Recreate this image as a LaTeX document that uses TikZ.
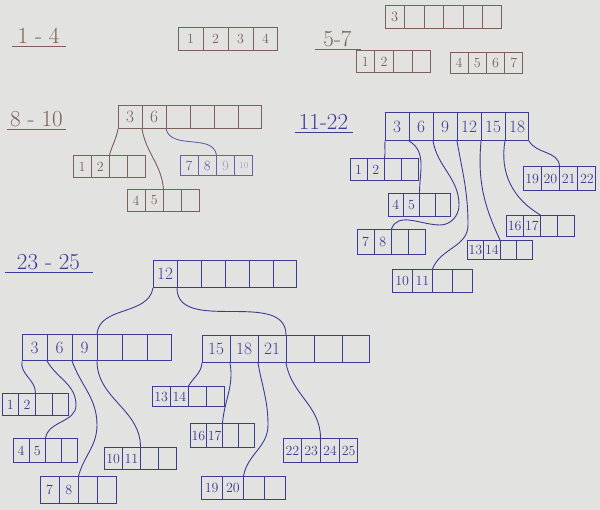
\documentclass[tikz,border=0pt]{standalone}
\usetikzlibrary{shapes.multipart}
\definecolor{paper}{HTML}{E2E2E0}
\definecolor{pencil}{HTML}{7D6058}
\definecolor{violetink}{HTML}{6A5FB0}
\definecolor{ink}{HTML}{3B3B98}

\begin{document}
\begin{tikzpicture}[x=1pt, y=1pt, line width=1pt,
    cellrow/.style={rectangle split, rectangle split horizontal, draw, align=center,
      inner xsep=2pt, inner ysep=1pt, anchor=north west},
    leafbox/.style={cellrow, inner xsep=1pt, rectangle split parts=4, text width=#1,
      rectangle split empty part width=#1, minimum height=22pt, font=\fontsize{14}{14}\selectfont},
    keybox/.style={cellrow, rectangle split parts=6, text width=#1,
      rectangle split empty part width=#1, minimum height=26pt, font=\LARGE},
    heading/.style={font=\fontsize{23}{23}\selectfont, inner sep=3pt, anchor=south},
    ptr/.style={line width=0.9pt}]

    \fill[paper] (0,0) rectangle (600,-510);
    \useasboundingbox (0,0) rectangle (600,-510);

    % 1-4: one leaf
    \begin{scope}[color=pencil]
        \node[heading, minimum width=53pt] (t14) at (38.5,-47) {1 - 4};
        \draw (t14.south west) -- (t14.south east);
        \node[leafbox=22pt, minimum height=23pt] (n14) at (178,-27) {1 \nodepart{two} 2 \nodepart{three} 3 \nodepart{four} 4};

        % 5-7: split
        \node[heading, minimum width=45pt] (t57) at (337.5,-50) {5-7};
        \draw (t57.south west) -- (t57.south east);
        \node[keybox=14.5pt, minimum height=23pt, font=\Large] (r57) at (385,-5) {3 \nodepart{two} \nodepart{three} \nodepart{four} \nodepart{five} \nodepart{six}};
        \node[leafbox=15.75pt] (a57) at (356,-50) {1 \nodepart{two} 2 \nodepart{three} \nodepart{four}};
        \node[leafbox=15.25pt, minimum height=21pt] (b57) at (450,-52) {4 \nodepart{two} 5 \nodepart{three} 6 \nodepart{four} 7};

        % 8-10
        \node[heading, minimum width=57pt] (t810) at (36.5,-130) {8 - 10};
        \draw (t810.south west) -- (t810.south east);
        \node[keybox=19pt, minimum height=23pt] (r810) at (118,-105) {3 \nodepart{two} 6 \nodepart{three} \nodepart{four} \nodepart{five} \nodepart{six}};
        \node[leafbox=15.25pt] (a810) at (73,-155) {1 \nodepart{two} 2 \nodepart{three} \nodepart{four}};
        \node[leafbox=15.25pt] (b810) at (127,-189) {4 \nodepart{two} 5 \nodepart{three} \nodepart{four}};
        \draw[ptr] (r810.south west) to[out=-100,in=75] (a810.two split north);
        \draw[ptr] (r810.one split south) to[out=-80,in=95] (b810.two split north);
    \end{scope}
    \begin{scope}[color=violetink]
        \node[leafbox=15.25pt, minimum height=20pt] (c810) at (180,-155) {7 \nodepart{two} 8 \nodepart{three} \textcolor{violetink!60}{9} \nodepart{four} \textcolor{violetink!60}{\small 10}};
        \draw[ptr] (r810.two split south) to[out=-75,in=100] (c810.two split north);
    \end{scope}

    \begin{scope}[color=ink]
        % 11-22
        \node[heading, minimum width=57pt] (t1122) at (323.5,-133) {11-22};
        \draw (t1122.south west) -- (t1122.south east);
        \node[keybox=19pt, minimum height=28pt] (r1122) at (385,-112) {3 \nodepart{two} 6 \nodepart{three} 9 \nodepart{four} 12 \nodepart{five} 15 \nodepart{six} 18};
        \node[leafbox=14.25pt] (a1122) at (350,-158) {1 \nodepart{two} 2 \nodepart{three} \nodepart{four}};
        \node[leafbox=12.75pt, minimum height=23pt] (b1122) at (388,-193) {4 \nodepart{two} 5 \nodepart{three} \nodepart{four}};
        \node[leafbox=14.25pt, minimum height=25pt] (c1122) at (357,-229) {7 \nodepart{two} 8 \nodepart{three} \nodepart{four}};
        \node[leafbox=17.25pt, minimum height=23pt] (d1122) at (392,-269) {10 \nodepart{two} 11 \nodepart{three} \nodepart{four}};
        \node[leafbox=13.5pt, minimum height=19pt] (e1122) at (467,-240) {13 \nodepart{two} 14 \nodepart{three} \nodepart{four}};
        \node[leafbox=14.25pt, minimum height=21pt] (f1122) at (506,-215) {16 \nodepart{two} 17 \nodepart{three} \nodepart{four}};
        \node[leafbox=15.25pt, minimum height=24pt] (g1122) at (523,-166) {19 \nodepart{two} 20 \nodepart{three} 21 \nodepart{four} 22};
        \draw[ptr] (r1122.south west) to[out=-95,in=80] (a1122.two split north);
        \draw[ptr] (r1122.one split south) to[out=-30,in=90] (b1122.two split north);
        \draw[ptr] (r1122.two split south) to[out=-80,in=90] (459,-205) to[out=-90,in=0] (440,-225) to[out=180,in=70] (c1122.two split north);
        \draw[ptr] (r1122.three split south) to[out=-80,in=90] (468,-225) to[out=-90,in=70] (d1122.two split north);
        \draw[ptr] (r1122.four split south) to[out=-95,in=115] (e1122.two split north);
        \draw[ptr] (r1122.five split south) to[out=-100,in=150] (f1122.two split north);
        \draw[ptr] (r1122.south east) to[out=-60,in=95] (g1122.two split north);

        % 23-25
        \node[heading, minimum width=87pt] (t2325) at (48.5,-273) {23 - 25};
        \draw (t2325.south west) -- (t2325.south east);
        \node[keybox=19pt, minimum height=27pt] (r23) at (153,-260) {12 \nodepart{two} \nodepart{three} \nodepart{four} \nodepart{five} \nodepart{six}};
        \node[keybox=20pt] (ka23) at (22,-334) {3 \nodepart{two} 6 \nodepart{three} 9 \nodepart{four} \nodepart{five} \nodepart{six}};
        \node[keybox=23pt, minimum height=27pt] (kb23) at (202,-335) {15 \nodepart{two} 18 \nodepart{three} 21 \nodepart{four} \nodepart{five} \nodepart{six}};
        \node[leafbox=13.75pt] (la23) at (2,-393) {1 \nodepart{two} 2 \nodepart{three} \nodepart{four}};
        \node[leafbox=13.25pt, minimum height=24pt] (lb23) at (13,-438) {4 \nodepart{two} 5 \nodepart{three} \nodepart{four}};
        \node[leafbox=16.25pt, minimum height=27pt] (lc23) at (40,-476) {7 \nodepart{two} 8 \nodepart{three} \nodepart{four}};
        \node[leafbox=15.25pt] (ld23) at (104,-447) {10 \nodepart{two} 11 \nodepart{three} \nodepart{four}};
        \node[leafbox=15.25pt, minimum height=20pt] (le23) at (152,-386) {13 \nodepart{two} 14 \nodepart{three} \nodepart{four}};
        \node[leafbox=13.25pt, minimum height=24pt] (lf23) at (190,-423) {16 \nodepart{two} 17 \nodepart{three} \nodepart{four}};
        \node[leafbox=18.25pt, minimum height=23pt] (lg23) at (201,-476) {19 \nodepart{two} 20 \nodepart{three} \nodepart{four}};
        \node[leafbox=15.75pt, minimum height=24pt] (lh23) at (283,-438) {22 \nodepart{two} 23 \nodepart{three} 24 \nodepart{four} 25};
        \draw[ptr] (r23.south west) to[out=-100,in=85] (ka23.three split north);
        \draw[ptr] (r23.one split south) to[out=-90,in=90] (kb23.three split north);
        \draw[ptr] (ka23.south west) to[out=-100,in=90] (la23.two split north);
        \draw[ptr] (ka23.one split south) to[out=-60,in=90] (76,-405) to[out=-90,in=80] (lb23.two split north);
        \draw[ptr] (ka23.two split south) to[out=-70,in=90] (97,-425) to[out=-90,in=75] (lc23.two split north);
        \draw[ptr] (ka23.three split south) to[out=-90,in=90] (ld23.two split north);
        \draw[ptr] (kb23.south west) to[out=-95,in=60] (le23.two split north);
        \draw[ptr] (kb23.one split south) to[out=-80,in=85] (lf23.two split north);
        \draw[ptr] (kb23.two split south) to[out=-80,in=90] (268,-425) to[out=-90,in=80] (lg23.two split north);
        \draw[ptr] (kb23.three split south) to[out=-80,in=90] (lh23.two split north);
    \end{scope}
\end{tikzpicture}
\end{document}
